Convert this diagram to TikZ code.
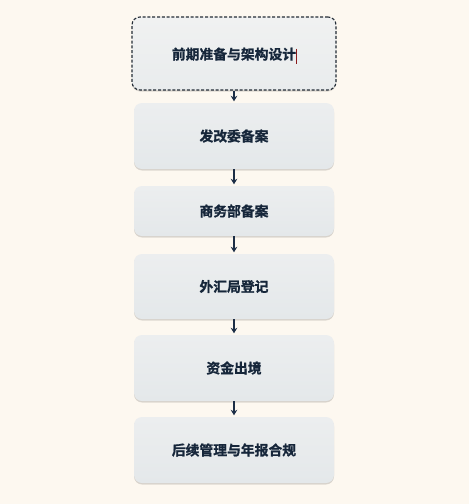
\documentclass[tikz,border=0pt]{standalone}
\usepackage{fontspec}
\newfontfamily\cjk{Noto Sans CJK SC}[UprightFont={* Bold}, UprightFeatures={FakeBold=1.2}]
\usetikzlibrary{shadows,arrows.meta}
\definecolor{bgcol}{HTML}{FDF8F0}
\definecolor{boxtop}{HTML}{ECEEEF}
\definecolor{boxbot}{HTML}{E4E8EA}
\definecolor{firsttop}{HTML}{F0F1F1}
\definecolor{firstbot}{HTML}{E9ECED}
\definecolor{txtcol}{HTML}{16263A}
\definecolor{arrcol}{HTML}{1C2E46}
\definecolor{dashcol}{HTML}{232C36}
\definecolor{cursorcol}{HTML}{8B1A1A}
\tikzset{
  softshadow/.style={
    general shadow={shadow yshift=-1.5pt, fill=black, opacity=0.07},
    general shadow={shadow yshift=-1.5pt, fill=black, opacity=0.05, inner sep=1.2pt},
    general shadow={shadow yshift=-1pt, fill=black, opacity=0.035, inner sep=2.8pt},
  },
  stepbox/.style={
    rectangle, rounded corners=8pt, minimum width=200pt,
    top color=boxtop, bottom color=boxbot, draw=none,
    font=\cjk\fontsize{13.8}{16}\selectfont, text=txtcol,
    inner sep=0pt, softshadow
  },
  firstbox/.style={
    stepbox, minimum width=204pt, top color=firsttop, bottom color=firstbot,
    draw=dashcol, dash pattern=on 3pt off 1.8pt, line width=1.1pt
  },
  flow/.style={draw=arrcol, line width=1.5pt, -{Stealth[length=5.5pt,width=6.5pt]}, shorten >=1.5pt}
}
\begin{document}
\begin{tikzpicture}[x=1pt,y=-1pt]
\fill[bgcol] (0,0) rectangle (469,504);
\useasboundingbox (0,0) rectangle (469,504);
\node[firstbox, minimum height=73pt, text depth=-2pt] (b1) at (234,53.5) {前期准备与架构设计};
\node[stepbox, minimum height=66pt] (b2) at (234,136) {发改委备案};
\node[stepbox, minimum height=50pt] (b3) at (234,211) {商务部备案};
\node[stepbox, minimum height=65pt] (b4) at (234,286.5) {外汇局登记};
\node[stepbox, minimum height=66pt] (b5) at (234,368) {资金出境};
\node[stepbox, minimum height=66pt] (b6) at (234,450) {后续管理与年报合规};
\coordinate (curtop) at (296.5,48.5);
\coordinate (curbot) at (296.5,63.5);
\draw[cursorcol, line width=0.9pt] (curtop) -- (curbot);
\draw[flow] (b1.south) -- (b2.north);
\draw[flow] (b2.south) -- (b3.north);
\draw[flow] (b3.south) -- (b4.north);
\draw[flow] (b4.south) -- (b5.north);
\draw[flow] (b5.south) -- (b6.north);
\end{tikzpicture}
\end{document}
